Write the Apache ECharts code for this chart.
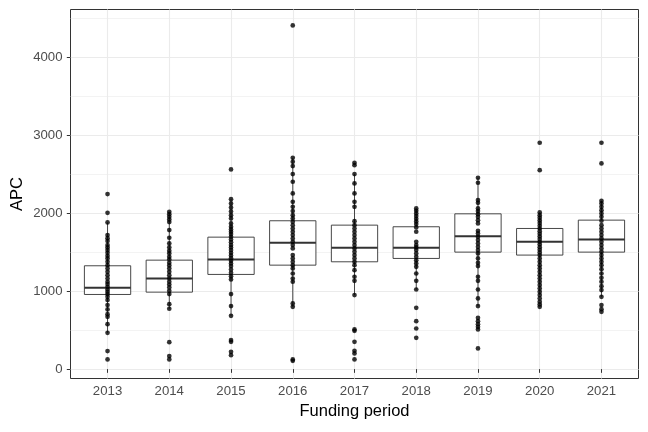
<!DOCTYPE html>
<html>
<head>
<meta charset="utf-8">
<script src="https://cdn.jsdelivr.net/npm/echarts@6/dist/echarts.min.js"></script>
<style>
html,body{margin:0;padding:0;background:#fff;}
#chart{width:648px;height:432px;}
</style>
</head>
<body>
<div id="chart"></div>
<script>
const years = [2013, 2014, 2015, 2016, 2017, 2018, 2019, 2020, 2021];
const yTicks = [0, 1000, 2000, 3000, 4000];
const yMinor = [500, 1500, 2500, 3500, 4500];

// [lower whisker, Q1, median, Q3, upper whisker]
const boxStats = [
  [466, 957, 1043, 1325, 1880],
  [774, 987, 1162, 1397, 2000],
  [684, 1214, 1406, 1692, 2179],
  [799, 1333, 1620, 1902, 2709],
  [949, 1376, 1556, 1846, 2500],
  [1021, 1419, 1556, 1825, 2060],
  [808, 1500, 1705, 1991, 2453],
  [949, 1462, 1632, 1803, 2009],
  [927, 1500, 1662, 1910, 2158]
];

const pts2013 = [2244, 2004, 1880, 1718, 1679, 1641, 1590, 1560, 1526, 1491, 1453, 1419, 1376, 1333, 1291, 1248, 1205, 1162, 1120, 1090, 1056, 1021, 991, 962, 927, 885, 821, 765, 705, 671, 577, 466, 231, 124];
const pts2014 = [2017, 1987, 1953, 1919, 1885, 1782, 1684, 1611, 1560, 1517, 1483, 1440, 1406, 1363, 1329, 1291, 1248, 1205, 1162, 1120, 1085, 1047, 1004, 962, 833, 774, 346, 167, 124];
const pts2015 = [2560, 2179, 2124, 2073, 2021, 1974, 1932, 1868, 1825, 1791, 1761, 1731, 1697, 1662, 1628, 1590, 1560, 1526, 1491, 1457, 1423, 1389, 1355, 1321, 1278, 1235, 1192, 1150, 962, 808, 684, 372, 350, 222, 179];
const pts2016 = [4406, 2709, 2658, 2603, 2500, 2402, 2252, 2145, 2081, 2026, 1974, 1932, 1889, 1846, 1803, 1761, 1718, 1675, 1632, 1590, 1547, 1462, 1419, 1376, 1333, 1291, 1226, 1162, 1120, 842, 799, 124, 107];
const pts2017 = [2645, 2615, 2500, 2380, 2252, 2145, 2081, 1897, 1846, 1803, 1761, 1718, 1675, 1632, 1590, 1547, 1504, 1462, 1419, 1376, 1333, 1269, 1184, 1132, 949, 509, 491, 350, 235, 201, 124];
const pts2018 = [2060, 2030, 1996, 1962, 1927, 1893, 1859, 1816, 1761, 1632, 1590, 1560, 1526, 1483, 1440, 1397, 1355, 1312, 1226, 1132, 1021, 786, 615, 521, 402];
const pts2019 = [2453, 2389, 2167, 2132, 2060, 2026, 1987, 1953, 1910, 1868, 1773, 1739, 1697, 1654, 1611, 1568, 1526, 1483, 1419, 1363, 1321, 1184, 1132, 1021, 906, 808, 658, 615, 577, 543, 509, 265];
const pts2020 = [2902, 2551, 2009, 1974, 1940, 1906, 1872, 1838, 1803, 1769, 1735, 1701, 1667, 1632, 1598, 1564, 1530, 1496, 1462, 1419, 1376, 1333, 1291, 1248, 1205, 1162, 1120, 1077, 1034, 991, 949, 906, 863, 829, 799];
const pts2021 = [2902, 2637, 2158, 2124, 2081, 2038, 1996, 1953, 1902, 1846, 1803, 1761, 1718, 1675, 1632, 1590, 1547, 1504, 1462, 1419, 1376, 1333, 1282, 1226, 1171, 1120, 1064, 1013, 927, 821, 769, 735];

const pointsByYear = [pts2013, pts2014, pts2015, pts2016, pts2017, pts2018, pts2019, pts2020, pts2021];

const boxData = years.map((y, i) => [y].concat(boxStats[i]));
const scatterData = [];
years.forEach((y, i) => pointsByYear[i].forEach(v => scatterData.push([y, v])));

const FONT = '"Liberation Sans", Arial, sans-serif';
const chart = echarts.init(document.getElementById('chart'), null, {renderer: 'canvas'});

chart.setOption({
  animation: false,
  backgroundColor: '#ffffff',
  grid: {
    left: 70.5, right: 9.5, top: 9.5, bottom: 53.5,
    containLabel: false, outerBoundsMode: 'none',
    show: true, borderColor: '#333333', borderWidth: 1, backgroundColor: '#ffffff'
  },
  xAxis: {
    type: 'value', min: 2012.4, max: 2021.6,
    name: 'Funding period', nameLocation: 'middle', nameGap: 24, nameMoveOverlap: false,
    nameTextStyle: {fontFamily: FONT, fontSize: 16.5, color: '#000'},
    axisLine: {show: false},
    axisTick: {show: true, length: 3.7, customValues: years, lineStyle: {color: '#333333', width: 1}},
    axisLabel: {customValues: years, fontFamily: FONT, fontSize: 13.2, color: '#4D4D4D', margin: 6,
      formatter: v => String(v)},
    splitLine: {show: true, lineStyle: {color: '#EBEBEB', width: 1.1}}
  },
  yAxis: [{
    type: 'value', min: -120, max: 4610,
    name: 'APC', nameLocation: 'middle', nameGap: 45, nameMoveOverlap: false,
    nameTextStyle: {fontFamily: FONT, fontSize: 16.5, color: '#000'},
    axisLine: {show: false},
    axisTick: {show: true, length: 3.7, customValues: yTicks, lineStyle: {color: '#333333', width: 1}},
    axisLabel: {customValues: yTicks, fontFamily: FONT, fontSize: 13.2, color: '#4D4D4D', margin: 8,
      formatter: v => String(v)},
    splitLine: {show: true, lineStyle: {color: '#EBEBEB', width: 1.1}}
  }, {
    type: 'value', min: -120, max: 4610, position: 'left',
    axisLine: {show: false},
    axisTick: {show: false, customValues: yMinor},
    axisLabel: {show: false, customValues: yMinor},
    splitLine: {show: true, lineStyle: {color: '#EBEBEB', width: 0.6}}
  }],
  series: [{
    type: 'custom',
    data: boxData,
    encode: {x: 0, y: [1, 2, 3, 4, 5]},
    z: 2,
    renderItem: function (params, api) {
      const x = api.value(0);
      const lo = api.coord([x, api.value(1)]);
      const q1 = api.coord([x, api.value(2)]);
      const md = api.coord([x, api.value(3)]);
      const q3 = api.coord([x, api.value(4)]);
      const hi = api.coord([x, api.value(5)]);
      const hw = api.size([0.75, 0])[0] / 2;
      const stroke = {stroke: '#333333', lineWidth: 0.9};
      return {
        type: 'group',
        children: [
          {type: 'line', shape: {x1: lo[0], y1: lo[1], x2: q1[0], y2: q1[1]}, style: stroke},
          {type: 'line', shape: {x1: q3[0], y1: q3[1], x2: hi[0], y2: hi[1]}, style: stroke},
          {type: 'rect', shape: {x: q1[0] - hw, y: q3[1], width: hw * 2, height: q1[1] - q3[1]},
            style: {fill: '#ffffff', stroke: '#333333', lineWidth: 0.9}},
          {type: 'line', shape: {x1: md[0] - hw, y1: md[1], x2: md[0] + hw, y2: md[1]},
            style: {stroke: '#333333', lineWidth: 2}}
        ]
      };
    }
  }, {
    type: 'scatter',
    data: scatterData,
    symbol: 'circle',
    symbolSize: 4.7,
    itemStyle: {color: '#000000'},
    z: 3
  }]
});
</script>
</body>
</html>
